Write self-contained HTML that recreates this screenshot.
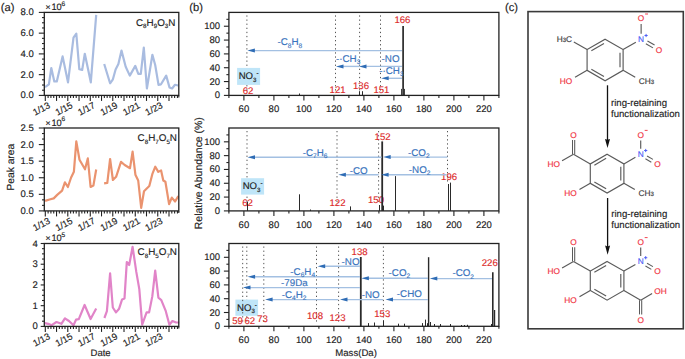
<!DOCTYPE html>
<html><head><meta charset="utf-8"><style>
html,body{margin:0;padding:0;background:#fff;}
svg{display:block;}
text{text-rendering:geometricPrecision;font-family:"Liberation Sans",sans-serif;}
</style></head><body>
<svg width="685" height="359" viewBox="0 0 685 359">
<defs><clipPath id="clipA"><rect x="0" y="0" width="180" height="359"/></clipPath></defs>
<rect width="685" height="359" fill="#fff"/>
<text x="0.7" y="11.3" font-size="11.2" font-family="Liberation Sans, sans-serif" fill="#222" stroke="#222" stroke-width="0.15">(a)</text>
<polyline points="45.0,87.2 48.9,84.4 51.3,68.0 54.3,81.4 56.8,81.4 62.6,56.4 68.0,82.3 73.5,37.6 76.3,33.7 79.3,69.2 82.2,69.9 84.8,53.8 90.8,82.3 96.2,14.9" fill="none" stroke="#a9bce0" stroke-width="2.2" stroke-linejoin="round" clip-path="url(#clipA)"/>
<polyline points="104.2,64.0 110.1,83.3 112.9,79.3 115.6,69.5 118.4,64.0 121.5,50.6 125.7,66.8 129.8,75.6 135.3,65.9 138.3,73.8 140.8,73.8 143.8,47.5 146.9,88.5 152.4,54.8 155.2,65.0 158.5,84.8 161.0,84.3 166.2,75.6 169.5,87.4 172.1,88.5 175.0,84.8 178.2,85.5" fill="none" stroke="#a9bce0" stroke-width="2.2" stroke-linejoin="round" clip-path="url(#clipA)"/>
<rect x="44.3" y="12.4" width="134.5" height="83.0" fill="none" stroke="#222" stroke-width="1.3"/>
<line x1="38.8" y1="95.40" x2="44.3" y2="95.40" stroke="#222" stroke-width="1.1"/>
<line x1="42.0" y1="90.21" x2="44.3" y2="90.21" stroke="#222" stroke-width="1.1"/>
<line x1="42.0" y1="85.03" x2="44.3" y2="85.03" stroke="#222" stroke-width="1.1"/>
<line x1="42.0" y1="79.84" x2="44.3" y2="79.84" stroke="#222" stroke-width="1.1"/>
<line x1="38.8" y1="74.65" x2="44.3" y2="74.65" stroke="#222" stroke-width="1.1"/>
<line x1="42.0" y1="69.46" x2="44.3" y2="69.46" stroke="#222" stroke-width="1.1"/>
<line x1="42.0" y1="64.28" x2="44.3" y2="64.28" stroke="#222" stroke-width="1.1"/>
<line x1="42.0" y1="59.09" x2="44.3" y2="59.09" stroke="#222" stroke-width="1.1"/>
<line x1="38.8" y1="53.90" x2="44.3" y2="53.90" stroke="#222" stroke-width="1.1"/>
<line x1="42.0" y1="48.71" x2="44.3" y2="48.71" stroke="#222" stroke-width="1.1"/>
<line x1="42.0" y1="43.53" x2="44.3" y2="43.53" stroke="#222" stroke-width="1.1"/>
<line x1="42.0" y1="38.34" x2="44.3" y2="38.34" stroke="#222" stroke-width="1.1"/>
<line x1="38.8" y1="33.15" x2="44.3" y2="33.15" stroke="#222" stroke-width="1.1"/>
<line x1="42.0" y1="27.96" x2="44.3" y2="27.96" stroke="#222" stroke-width="1.1"/>
<line x1="42.0" y1="22.78" x2="44.3" y2="22.78" stroke="#222" stroke-width="1.1"/>
<line x1="42.0" y1="17.59" x2="44.3" y2="17.59" stroke="#222" stroke-width="1.1"/>
<line x1="38.8" y1="12.40" x2="44.3" y2="12.40" stroke="#222" stroke-width="1.1"/>
<text x="33.8" y="98.4" font-size="9.5" text-anchor="end" font-family="Liberation Sans, sans-serif" fill="#222" stroke="#222" stroke-width="0.15">0.0</text>
<text x="33.8" y="77.7" font-size="9.5" text-anchor="end" font-family="Liberation Sans, sans-serif" fill="#222" stroke="#222" stroke-width="0.15">2.0</text>
<text x="33.8" y="56.9" font-size="9.5" text-anchor="end" font-family="Liberation Sans, sans-serif" fill="#222" stroke="#222" stroke-width="0.15">4.0</text>
<text x="33.8" y="36.2" font-size="9.5" text-anchor="end" font-family="Liberation Sans, sans-serif" fill="#222" stroke="#222" stroke-width="0.15">6.0</text>
<text x="33.8" y="15.4" font-size="9.5" text-anchor="end" font-family="Liberation Sans, sans-serif" fill="#222" stroke="#222" stroke-width="0.15">8.0</text>
<line x1="45.30" y1="95.4" x2="45.30" y2="100.9" stroke="#222" stroke-width="1.1"/>
<line x1="48.11" y1="95.4" x2="48.11" y2="97.9" stroke="#222" stroke-width="1.1"/>
<line x1="50.92" y1="95.4" x2="50.92" y2="97.9" stroke="#222" stroke-width="1.1"/>
<line x1="53.73" y1="95.4" x2="53.73" y2="97.9" stroke="#222" stroke-width="1.1"/>
<line x1="56.54" y1="95.4" x2="56.54" y2="100.9" stroke="#222" stroke-width="1.1"/>
<line x1="59.36" y1="95.4" x2="59.36" y2="97.9" stroke="#222" stroke-width="1.1"/>
<line x1="62.17" y1="95.4" x2="62.17" y2="97.9" stroke="#222" stroke-width="1.1"/>
<line x1="64.98" y1="95.4" x2="64.98" y2="97.9" stroke="#222" stroke-width="1.1"/>
<line x1="67.79" y1="95.4" x2="67.79" y2="100.9" stroke="#222" stroke-width="1.1"/>
<line x1="70.60" y1="95.4" x2="70.60" y2="97.9" stroke="#222" stroke-width="1.1"/>
<line x1="73.41" y1="95.4" x2="73.41" y2="97.9" stroke="#222" stroke-width="1.1"/>
<line x1="76.22" y1="95.4" x2="76.22" y2="97.9" stroke="#222" stroke-width="1.1"/>
<line x1="79.03" y1="95.4" x2="79.03" y2="100.9" stroke="#222" stroke-width="1.1"/>
<line x1="81.85" y1="95.4" x2="81.85" y2="97.9" stroke="#222" stroke-width="1.1"/>
<line x1="84.66" y1="95.4" x2="84.66" y2="97.9" stroke="#222" stroke-width="1.1"/>
<line x1="87.47" y1="95.4" x2="87.47" y2="97.9" stroke="#222" stroke-width="1.1"/>
<line x1="90.28" y1="95.4" x2="90.28" y2="100.9" stroke="#222" stroke-width="1.1"/>
<line x1="93.09" y1="95.4" x2="93.09" y2="97.9" stroke="#222" stroke-width="1.1"/>
<line x1="95.90" y1="95.4" x2="95.90" y2="97.9" stroke="#222" stroke-width="1.1"/>
<line x1="98.71" y1="95.4" x2="98.71" y2="97.9" stroke="#222" stroke-width="1.1"/>
<line x1="101.52" y1="95.4" x2="101.52" y2="100.9" stroke="#222" stroke-width="1.1"/>
<line x1="104.34" y1="95.4" x2="104.34" y2="97.9" stroke="#222" stroke-width="1.1"/>
<line x1="107.15" y1="95.4" x2="107.15" y2="97.9" stroke="#222" stroke-width="1.1"/>
<line x1="109.96" y1="95.4" x2="109.96" y2="97.9" stroke="#222" stroke-width="1.1"/>
<line x1="112.77" y1="95.4" x2="112.77" y2="100.9" stroke="#222" stroke-width="1.1"/>
<line x1="115.58" y1="95.4" x2="115.58" y2="97.9" stroke="#222" stroke-width="1.1"/>
<line x1="118.39" y1="95.4" x2="118.39" y2="97.9" stroke="#222" stroke-width="1.1"/>
<line x1="121.20" y1="95.4" x2="121.20" y2="97.9" stroke="#222" stroke-width="1.1"/>
<line x1="124.01" y1="95.4" x2="124.01" y2="100.9" stroke="#222" stroke-width="1.1"/>
<line x1="126.83" y1="95.4" x2="126.83" y2="97.9" stroke="#222" stroke-width="1.1"/>
<line x1="129.64" y1="95.4" x2="129.64" y2="97.9" stroke="#222" stroke-width="1.1"/>
<line x1="132.45" y1="95.4" x2="132.45" y2="97.9" stroke="#222" stroke-width="1.1"/>
<line x1="135.26" y1="95.4" x2="135.26" y2="100.9" stroke="#222" stroke-width="1.1"/>
<line x1="138.07" y1="95.4" x2="138.07" y2="97.9" stroke="#222" stroke-width="1.1"/>
<line x1="140.88" y1="95.4" x2="140.88" y2="97.9" stroke="#222" stroke-width="1.1"/>
<line x1="143.69" y1="95.4" x2="143.69" y2="97.9" stroke="#222" stroke-width="1.1"/>
<line x1="146.50" y1="95.4" x2="146.50" y2="100.9" stroke="#222" stroke-width="1.1"/>
<line x1="149.32" y1="95.4" x2="149.32" y2="97.9" stroke="#222" stroke-width="1.1"/>
<line x1="152.13" y1="95.4" x2="152.13" y2="97.9" stroke="#222" stroke-width="1.1"/>
<line x1="154.94" y1="95.4" x2="154.94" y2="97.9" stroke="#222" stroke-width="1.1"/>
<line x1="157.75" y1="95.4" x2="157.75" y2="100.9" stroke="#222" stroke-width="1.1"/>
<line x1="160.56" y1="95.4" x2="160.56" y2="97.9" stroke="#222" stroke-width="1.1"/>
<line x1="163.37" y1="95.4" x2="163.37" y2="97.9" stroke="#222" stroke-width="1.1"/>
<line x1="166.18" y1="95.4" x2="166.18" y2="97.9" stroke="#222" stroke-width="1.1"/>
<line x1="169.00" y1="95.4" x2="169.00" y2="100.9" stroke="#222" stroke-width="1.1"/>
<line x1="171.81" y1="95.4" x2="171.81" y2="97.9" stroke="#222" stroke-width="1.1"/>
<line x1="174.62" y1="95.4" x2="174.62" y2="97.9" stroke="#222" stroke-width="1.1"/>
<line x1="177.43" y1="95.4" x2="177.43" y2="97.9" stroke="#222" stroke-width="1.1"/>
<line x1="178.8" y1="95.4" x2="178.8" y2="97.4" stroke="#222" stroke-width="1.1"/>
<text transform="translate(50.9,107.3) rotate(-28)" font-size="9.3" text-anchor="end" font-family="Liberation Sans, sans-serif" fill="#222" stroke="#222" stroke-width="0.15">1/13</text>
<text transform="translate(73.4,107.3) rotate(-28)" font-size="9.3" text-anchor="end" font-family="Liberation Sans, sans-serif" fill="#222" stroke="#222" stroke-width="0.15">1/15</text>
<text transform="translate(95.9,107.3) rotate(-28)" font-size="9.3" text-anchor="end" font-family="Liberation Sans, sans-serif" fill="#222" stroke="#222" stroke-width="0.15">1/17</text>
<text transform="translate(118.4,107.3) rotate(-28)" font-size="9.3" text-anchor="end" font-family="Liberation Sans, sans-serif" fill="#222" stroke="#222" stroke-width="0.15">1/19</text>
<text transform="translate(140.9,107.3) rotate(-28)" font-size="9.3" text-anchor="end" font-family="Liberation Sans, sans-serif" fill="#222" stroke="#222" stroke-width="0.15">1/21</text>
<text transform="translate(163.3,107.3) rotate(-28)" font-size="9.3" text-anchor="end" font-family="Liberation Sans, sans-serif" fill="#222" stroke="#222" stroke-width="0.15">1/23</text>
<text x="45.6" y="9.9" font-size="8.6" font-family="Liberation Sans, sans-serif" fill="#222" stroke="#222" stroke-width="0.15">×</text>
<text x="51.4" y="10.0" font-size="9.3" font-family="Liberation Sans, sans-serif" fill="#222" stroke="#222" stroke-width="0.15">10</text>
<text x="61.6" y="5.6" font-size="6.6" font-family="Liberation Sans, sans-serif" fill="#222" stroke="#222" stroke-width="0.15">6</text>
<text x="136.0" y="25.9" font-size="9.85" font-family="Liberation Sans, sans-serif" fill="#222" stroke="#222" stroke-width="0.15">C<tspan font-size="6.2" dy="2.5">8</tspan><tspan dy="-2.5">H</tspan><tspan font-size="6.2" dy="2.5">9</tspan><tspan dy="-2.5">O</tspan><tspan font-size="6.2" dy="2.5">3</tspan><tspan dy="-2.5">N</tspan></text>
<polyline points="45.1,200.9 49.6,199.5 53.7,198.4 57.2,194.9 62.1,190.7 64.9,182.4 67.9,187.0 71.1,177.5 73.9,171.7 76.3,141.4 79.5,159.8 85.0,169.3 87.8,158.4 90.6,187.0 93.4,185.6 96.2,169.5" fill="none" stroke="#ea936f" stroke-width="2.2" stroke-linejoin="round" clip-path="url(#clipA)"/>
<polyline points="104.1,183.4 107.3,182.8 110.1,159.0 112.9,180.0 116.1,176.8 121.0,161.8 124.7,165.0 130.0,168.2 132.6,151.7 135.4,174.7 138.2,180.5 141.2,207.9 144.0,191.2 149.3,186.0 152.5,173.6 155.3,166.7 158.3,171.9 161.1,170.4 163.3,180.5 165.4,181.8 169.1,204.1 171.8,197.6 175.1,201.5 178.3,196.1" fill="none" stroke="#ea936f" stroke-width="2.2" stroke-linejoin="round" clip-path="url(#clipA)"/>
<rect x="44.3" y="128.0" width="134.5" height="82.9" fill="none" stroke="#222" stroke-width="1.3"/>
<line x1="38.8" y1="210.90" x2="44.3" y2="210.90" stroke="#222" stroke-width="1.1"/>
<line x1="42.0" y1="205.37" x2="44.3" y2="205.37" stroke="#222" stroke-width="1.1"/>
<line x1="42.0" y1="199.85" x2="44.3" y2="199.85" stroke="#222" stroke-width="1.1"/>
<line x1="38.8" y1="194.32" x2="44.3" y2="194.32" stroke="#222" stroke-width="1.1"/>
<line x1="42.0" y1="188.79" x2="44.3" y2="188.79" stroke="#222" stroke-width="1.1"/>
<line x1="42.0" y1="183.27" x2="44.3" y2="183.27" stroke="#222" stroke-width="1.1"/>
<line x1="38.8" y1="177.74" x2="44.3" y2="177.74" stroke="#222" stroke-width="1.1"/>
<line x1="42.0" y1="172.21" x2="44.3" y2="172.21" stroke="#222" stroke-width="1.1"/>
<line x1="42.0" y1="166.69" x2="44.3" y2="166.69" stroke="#222" stroke-width="1.1"/>
<line x1="38.8" y1="161.16" x2="44.3" y2="161.16" stroke="#222" stroke-width="1.1"/>
<line x1="42.0" y1="155.63" x2="44.3" y2="155.63" stroke="#222" stroke-width="1.1"/>
<line x1="42.0" y1="150.11" x2="44.3" y2="150.11" stroke="#222" stroke-width="1.1"/>
<line x1="38.8" y1="144.58" x2="44.3" y2="144.58" stroke="#222" stroke-width="1.1"/>
<line x1="42.0" y1="139.05" x2="44.3" y2="139.05" stroke="#222" stroke-width="1.1"/>
<line x1="42.0" y1="133.53" x2="44.3" y2="133.53" stroke="#222" stroke-width="1.1"/>
<line x1="38.8" y1="128.00" x2="44.3" y2="128.00" stroke="#222" stroke-width="1.1"/>
<text x="33.8" y="213.9" font-size="9.5" text-anchor="end" font-family="Liberation Sans, sans-serif" fill="#222" stroke="#222" stroke-width="0.15">0.0</text>
<text x="33.8" y="197.3" font-size="9.5" text-anchor="end" font-family="Liberation Sans, sans-serif" fill="#222" stroke="#222" stroke-width="0.15">0.5</text>
<text x="33.8" y="180.7" font-size="9.5" text-anchor="end" font-family="Liberation Sans, sans-serif" fill="#222" stroke="#222" stroke-width="0.15">1.0</text>
<text x="33.8" y="164.2" font-size="9.5" text-anchor="end" font-family="Liberation Sans, sans-serif" fill="#222" stroke="#222" stroke-width="0.15">1.5</text>
<text x="33.8" y="147.6" font-size="9.5" text-anchor="end" font-family="Liberation Sans, sans-serif" fill="#222" stroke="#222" stroke-width="0.15">2.0</text>
<text x="33.8" y="131.0" font-size="9.5" text-anchor="end" font-family="Liberation Sans, sans-serif" fill="#222" stroke="#222" stroke-width="0.15">2.5</text>
<line x1="45.30" y1="210.9" x2="45.30" y2="216.4" stroke="#222" stroke-width="1.1"/>
<line x1="48.11" y1="210.9" x2="48.11" y2="213.4" stroke="#222" stroke-width="1.1"/>
<line x1="50.92" y1="210.9" x2="50.92" y2="213.4" stroke="#222" stroke-width="1.1"/>
<line x1="53.73" y1="210.9" x2="53.73" y2="213.4" stroke="#222" stroke-width="1.1"/>
<line x1="56.54" y1="210.9" x2="56.54" y2="216.4" stroke="#222" stroke-width="1.1"/>
<line x1="59.36" y1="210.9" x2="59.36" y2="213.4" stroke="#222" stroke-width="1.1"/>
<line x1="62.17" y1="210.9" x2="62.17" y2="213.4" stroke="#222" stroke-width="1.1"/>
<line x1="64.98" y1="210.9" x2="64.98" y2="213.4" stroke="#222" stroke-width="1.1"/>
<line x1="67.79" y1="210.9" x2="67.79" y2="216.4" stroke="#222" stroke-width="1.1"/>
<line x1="70.60" y1="210.9" x2="70.60" y2="213.4" stroke="#222" stroke-width="1.1"/>
<line x1="73.41" y1="210.9" x2="73.41" y2="213.4" stroke="#222" stroke-width="1.1"/>
<line x1="76.22" y1="210.9" x2="76.22" y2="213.4" stroke="#222" stroke-width="1.1"/>
<line x1="79.03" y1="210.9" x2="79.03" y2="216.4" stroke="#222" stroke-width="1.1"/>
<line x1="81.85" y1="210.9" x2="81.85" y2="213.4" stroke="#222" stroke-width="1.1"/>
<line x1="84.66" y1="210.9" x2="84.66" y2="213.4" stroke="#222" stroke-width="1.1"/>
<line x1="87.47" y1="210.9" x2="87.47" y2="213.4" stroke="#222" stroke-width="1.1"/>
<line x1="90.28" y1="210.9" x2="90.28" y2="216.4" stroke="#222" stroke-width="1.1"/>
<line x1="93.09" y1="210.9" x2="93.09" y2="213.4" stroke="#222" stroke-width="1.1"/>
<line x1="95.90" y1="210.9" x2="95.90" y2="213.4" stroke="#222" stroke-width="1.1"/>
<line x1="98.71" y1="210.9" x2="98.71" y2="213.4" stroke="#222" stroke-width="1.1"/>
<line x1="101.52" y1="210.9" x2="101.52" y2="216.4" stroke="#222" stroke-width="1.1"/>
<line x1="104.34" y1="210.9" x2="104.34" y2="213.4" stroke="#222" stroke-width="1.1"/>
<line x1="107.15" y1="210.9" x2="107.15" y2="213.4" stroke="#222" stroke-width="1.1"/>
<line x1="109.96" y1="210.9" x2="109.96" y2="213.4" stroke="#222" stroke-width="1.1"/>
<line x1="112.77" y1="210.9" x2="112.77" y2="216.4" stroke="#222" stroke-width="1.1"/>
<line x1="115.58" y1="210.9" x2="115.58" y2="213.4" stroke="#222" stroke-width="1.1"/>
<line x1="118.39" y1="210.9" x2="118.39" y2="213.4" stroke="#222" stroke-width="1.1"/>
<line x1="121.20" y1="210.9" x2="121.20" y2="213.4" stroke="#222" stroke-width="1.1"/>
<line x1="124.01" y1="210.9" x2="124.01" y2="216.4" stroke="#222" stroke-width="1.1"/>
<line x1="126.83" y1="210.9" x2="126.83" y2="213.4" stroke="#222" stroke-width="1.1"/>
<line x1="129.64" y1="210.9" x2="129.64" y2="213.4" stroke="#222" stroke-width="1.1"/>
<line x1="132.45" y1="210.9" x2="132.45" y2="213.4" stroke="#222" stroke-width="1.1"/>
<line x1="135.26" y1="210.9" x2="135.26" y2="216.4" stroke="#222" stroke-width="1.1"/>
<line x1="138.07" y1="210.9" x2="138.07" y2="213.4" stroke="#222" stroke-width="1.1"/>
<line x1="140.88" y1="210.9" x2="140.88" y2="213.4" stroke="#222" stroke-width="1.1"/>
<line x1="143.69" y1="210.9" x2="143.69" y2="213.4" stroke="#222" stroke-width="1.1"/>
<line x1="146.50" y1="210.9" x2="146.50" y2="216.4" stroke="#222" stroke-width="1.1"/>
<line x1="149.32" y1="210.9" x2="149.32" y2="213.4" stroke="#222" stroke-width="1.1"/>
<line x1="152.13" y1="210.9" x2="152.13" y2="213.4" stroke="#222" stroke-width="1.1"/>
<line x1="154.94" y1="210.9" x2="154.94" y2="213.4" stroke="#222" stroke-width="1.1"/>
<line x1="157.75" y1="210.9" x2="157.75" y2="216.4" stroke="#222" stroke-width="1.1"/>
<line x1="160.56" y1="210.9" x2="160.56" y2="213.4" stroke="#222" stroke-width="1.1"/>
<line x1="163.37" y1="210.9" x2="163.37" y2="213.4" stroke="#222" stroke-width="1.1"/>
<line x1="166.18" y1="210.9" x2="166.18" y2="213.4" stroke="#222" stroke-width="1.1"/>
<line x1="169.00" y1="210.9" x2="169.00" y2="216.4" stroke="#222" stroke-width="1.1"/>
<line x1="171.81" y1="210.9" x2="171.81" y2="213.4" stroke="#222" stroke-width="1.1"/>
<line x1="174.62" y1="210.9" x2="174.62" y2="213.4" stroke="#222" stroke-width="1.1"/>
<line x1="177.43" y1="210.9" x2="177.43" y2="213.4" stroke="#222" stroke-width="1.1"/>
<line x1="178.8" y1="210.9" x2="178.8" y2="212.9" stroke="#222" stroke-width="1.1"/>
<text transform="translate(50.9,222.8) rotate(-28)" font-size="9.3" text-anchor="end" font-family="Liberation Sans, sans-serif" fill="#222" stroke="#222" stroke-width="0.15">1/13</text>
<text transform="translate(73.4,222.8) rotate(-28)" font-size="9.3" text-anchor="end" font-family="Liberation Sans, sans-serif" fill="#222" stroke="#222" stroke-width="0.15">1/15</text>
<text transform="translate(95.9,222.8) rotate(-28)" font-size="9.3" text-anchor="end" font-family="Liberation Sans, sans-serif" fill="#222" stroke="#222" stroke-width="0.15">1/17</text>
<text transform="translate(118.4,222.8) rotate(-28)" font-size="9.3" text-anchor="end" font-family="Liberation Sans, sans-serif" fill="#222" stroke="#222" stroke-width="0.15">1/19</text>
<text transform="translate(140.9,222.8) rotate(-28)" font-size="9.3" text-anchor="end" font-family="Liberation Sans, sans-serif" fill="#222" stroke="#222" stroke-width="0.15">1/21</text>
<text transform="translate(163.3,222.8) rotate(-28)" font-size="9.3" text-anchor="end" font-family="Liberation Sans, sans-serif" fill="#222" stroke="#222" stroke-width="0.15">1/23</text>
<text x="45.6" y="125.5" font-size="8.6" font-family="Liberation Sans, sans-serif" fill="#222" stroke="#222" stroke-width="0.15">×</text>
<text x="51.4" y="125.6" font-size="9.3" font-family="Liberation Sans, sans-serif" fill="#222" stroke="#222" stroke-width="0.15">10</text>
<text x="61.6" y="121.2" font-size="6.6" font-family="Liberation Sans, sans-serif" fill="#222" stroke="#222" stroke-width="0.15">6</text>
<text x="137.6" y="141.2" font-size="9.85" font-family="Liberation Sans, sans-serif" fill="#222" stroke="#222" stroke-width="0.15">C<tspan font-size="6.2" dy="2.5">8</tspan><tspan dy="-2.5">H</tspan><tspan font-size="6.2" dy="2.5">7</tspan><tspan dy="-2.5">O</tspan><tspan font-size="6.2" dy="2.5">5</tspan><tspan dy="-2.5">N</tspan></text>
<polyline points="44.9,323.1 48.2,323.8 51.7,325.2 56.5,322.0 61.4,323.8 64.9,318.3 69.0,321.0 73.5,325.2 76.0,319.7 78.8,319.2 84.6,305.0 90.6,319.0 96.2,308.5" fill="none" stroke="#e184c8" stroke-width="2.2" stroke-linejoin="round" clip-path="url(#clipA)"/>
<polyline points="104.4,318.0 106.9,311.2 110.1,273.3 112.8,307.5 116.0,312.4 119.1,308.7 122.1,299.4 124.5,298.4 126.8,262.0 129.2,265.0 132.6,246.8 136.3,271.9 139.3,289.1 142.2,324.7 146.6,312.4 149.1,312.4 152.3,296.4 155.2,270.7 158.4,297.7 161.3,300.1 165.8,311.2 169.4,324.7 172.4,321.0 176.1,322.5 179.2,322.5" fill="none" stroke="#e184c8" stroke-width="2.2" stroke-linejoin="round" clip-path="url(#clipA)"/>
<rect x="44.3" y="243.5" width="134.5" height="82.89999999999998" fill="none" stroke="#222" stroke-width="1.3"/>
<line x1="40.7" y1="326.40" x2="44.3" y2="326.40" stroke="#222" stroke-width="1.1"/>
<line x1="42.0" y1="321.22" x2="44.3" y2="321.22" stroke="#222" stroke-width="1.1"/>
<line x1="42.0" y1="316.04" x2="44.3" y2="316.04" stroke="#222" stroke-width="1.1"/>
<line x1="42.0" y1="310.86" x2="44.3" y2="310.86" stroke="#222" stroke-width="1.1"/>
<line x1="40.7" y1="305.67" x2="44.3" y2="305.67" stroke="#222" stroke-width="1.1"/>
<line x1="42.0" y1="300.49" x2="44.3" y2="300.49" stroke="#222" stroke-width="1.1"/>
<line x1="42.0" y1="295.31" x2="44.3" y2="295.31" stroke="#222" stroke-width="1.1"/>
<line x1="42.0" y1="290.13" x2="44.3" y2="290.13" stroke="#222" stroke-width="1.1"/>
<line x1="40.7" y1="284.95" x2="44.3" y2="284.95" stroke="#222" stroke-width="1.1"/>
<line x1="42.0" y1="279.77" x2="44.3" y2="279.77" stroke="#222" stroke-width="1.1"/>
<line x1="42.0" y1="274.59" x2="44.3" y2="274.59" stroke="#222" stroke-width="1.1"/>
<line x1="42.0" y1="269.41" x2="44.3" y2="269.41" stroke="#222" stroke-width="1.1"/>
<line x1="40.7" y1="264.23" x2="44.3" y2="264.23" stroke="#222" stroke-width="1.1"/>
<line x1="42.0" y1="259.04" x2="44.3" y2="259.04" stroke="#222" stroke-width="1.1"/>
<line x1="42.0" y1="253.86" x2="44.3" y2="253.86" stroke="#222" stroke-width="1.1"/>
<line x1="42.0" y1="248.68" x2="44.3" y2="248.68" stroke="#222" stroke-width="1.1"/>
<line x1="40.7" y1="243.50" x2="44.3" y2="243.50" stroke="#222" stroke-width="1.1"/>
<text x="37.9" y="329.4" font-size="9.5" text-anchor="end" font-family="Liberation Sans, sans-serif" fill="#222" stroke="#222" stroke-width="0.15">0</text>
<text x="37.9" y="308.7" font-size="9.5" text-anchor="end" font-family="Liberation Sans, sans-serif" fill="#222" stroke="#222" stroke-width="0.15">1</text>
<text x="37.9" y="287.9" font-size="9.5" text-anchor="end" font-family="Liberation Sans, sans-serif" fill="#222" stroke="#222" stroke-width="0.15">2</text>
<text x="37.9" y="267.2" font-size="9.5" text-anchor="end" font-family="Liberation Sans, sans-serif" fill="#222" stroke="#222" stroke-width="0.15">3</text>
<text x="37.9" y="246.5" font-size="9.5" text-anchor="end" font-family="Liberation Sans, sans-serif" fill="#222" stroke="#222" stroke-width="0.15">4</text>
<line x1="45.30" y1="326.4" x2="45.30" y2="331.9" stroke="#222" stroke-width="1.1"/>
<line x1="48.11" y1="326.4" x2="48.11" y2="328.9" stroke="#222" stroke-width="1.1"/>
<line x1="50.92" y1="326.4" x2="50.92" y2="328.9" stroke="#222" stroke-width="1.1"/>
<line x1="53.73" y1="326.4" x2="53.73" y2="328.9" stroke="#222" stroke-width="1.1"/>
<line x1="56.54" y1="326.4" x2="56.54" y2="331.9" stroke="#222" stroke-width="1.1"/>
<line x1="59.36" y1="326.4" x2="59.36" y2="328.9" stroke="#222" stroke-width="1.1"/>
<line x1="62.17" y1="326.4" x2="62.17" y2="328.9" stroke="#222" stroke-width="1.1"/>
<line x1="64.98" y1="326.4" x2="64.98" y2="328.9" stroke="#222" stroke-width="1.1"/>
<line x1="67.79" y1="326.4" x2="67.79" y2="331.9" stroke="#222" stroke-width="1.1"/>
<line x1="70.60" y1="326.4" x2="70.60" y2="328.9" stroke="#222" stroke-width="1.1"/>
<line x1="73.41" y1="326.4" x2="73.41" y2="328.9" stroke="#222" stroke-width="1.1"/>
<line x1="76.22" y1="326.4" x2="76.22" y2="328.9" stroke="#222" stroke-width="1.1"/>
<line x1="79.03" y1="326.4" x2="79.03" y2="331.9" stroke="#222" stroke-width="1.1"/>
<line x1="81.85" y1="326.4" x2="81.85" y2="328.9" stroke="#222" stroke-width="1.1"/>
<line x1="84.66" y1="326.4" x2="84.66" y2="328.9" stroke="#222" stroke-width="1.1"/>
<line x1="87.47" y1="326.4" x2="87.47" y2="328.9" stroke="#222" stroke-width="1.1"/>
<line x1="90.28" y1="326.4" x2="90.28" y2="331.9" stroke="#222" stroke-width="1.1"/>
<line x1="93.09" y1="326.4" x2="93.09" y2="328.9" stroke="#222" stroke-width="1.1"/>
<line x1="95.90" y1="326.4" x2="95.90" y2="328.9" stroke="#222" stroke-width="1.1"/>
<line x1="98.71" y1="326.4" x2="98.71" y2="328.9" stroke="#222" stroke-width="1.1"/>
<line x1="101.52" y1="326.4" x2="101.52" y2="331.9" stroke="#222" stroke-width="1.1"/>
<line x1="104.34" y1="326.4" x2="104.34" y2="328.9" stroke="#222" stroke-width="1.1"/>
<line x1="107.15" y1="326.4" x2="107.15" y2="328.9" stroke="#222" stroke-width="1.1"/>
<line x1="109.96" y1="326.4" x2="109.96" y2="328.9" stroke="#222" stroke-width="1.1"/>
<line x1="112.77" y1="326.4" x2="112.77" y2="331.9" stroke="#222" stroke-width="1.1"/>
<line x1="115.58" y1="326.4" x2="115.58" y2="328.9" stroke="#222" stroke-width="1.1"/>
<line x1="118.39" y1="326.4" x2="118.39" y2="328.9" stroke="#222" stroke-width="1.1"/>
<line x1="121.20" y1="326.4" x2="121.20" y2="328.9" stroke="#222" stroke-width="1.1"/>
<line x1="124.01" y1="326.4" x2="124.01" y2="331.9" stroke="#222" stroke-width="1.1"/>
<line x1="126.83" y1="326.4" x2="126.83" y2="328.9" stroke="#222" stroke-width="1.1"/>
<line x1="129.64" y1="326.4" x2="129.64" y2="328.9" stroke="#222" stroke-width="1.1"/>
<line x1="132.45" y1="326.4" x2="132.45" y2="328.9" stroke="#222" stroke-width="1.1"/>
<line x1="135.26" y1="326.4" x2="135.26" y2="331.9" stroke="#222" stroke-width="1.1"/>
<line x1="138.07" y1="326.4" x2="138.07" y2="328.9" stroke="#222" stroke-width="1.1"/>
<line x1="140.88" y1="326.4" x2="140.88" y2="328.9" stroke="#222" stroke-width="1.1"/>
<line x1="143.69" y1="326.4" x2="143.69" y2="328.9" stroke="#222" stroke-width="1.1"/>
<line x1="146.50" y1="326.4" x2="146.50" y2="331.9" stroke="#222" stroke-width="1.1"/>
<line x1="149.32" y1="326.4" x2="149.32" y2="328.9" stroke="#222" stroke-width="1.1"/>
<line x1="152.13" y1="326.4" x2="152.13" y2="328.9" stroke="#222" stroke-width="1.1"/>
<line x1="154.94" y1="326.4" x2="154.94" y2="328.9" stroke="#222" stroke-width="1.1"/>
<line x1="157.75" y1="326.4" x2="157.75" y2="331.9" stroke="#222" stroke-width="1.1"/>
<line x1="160.56" y1="326.4" x2="160.56" y2="328.9" stroke="#222" stroke-width="1.1"/>
<line x1="163.37" y1="326.4" x2="163.37" y2="328.9" stroke="#222" stroke-width="1.1"/>
<line x1="166.18" y1="326.4" x2="166.18" y2="328.9" stroke="#222" stroke-width="1.1"/>
<line x1="169.00" y1="326.4" x2="169.00" y2="331.9" stroke="#222" stroke-width="1.1"/>
<line x1="171.81" y1="326.4" x2="171.81" y2="328.9" stroke="#222" stroke-width="1.1"/>
<line x1="174.62" y1="326.4" x2="174.62" y2="328.9" stroke="#222" stroke-width="1.1"/>
<line x1="177.43" y1="326.4" x2="177.43" y2="328.9" stroke="#222" stroke-width="1.1"/>
<line x1="178.8" y1="326.4" x2="178.8" y2="328.4" stroke="#222" stroke-width="1.1"/>
<text transform="translate(50.9,338.3) rotate(-28)" font-size="9.3" text-anchor="end" font-family="Liberation Sans, sans-serif" fill="#222" stroke="#222" stroke-width="0.15">1/13</text>
<text transform="translate(73.4,338.3) rotate(-28)" font-size="9.3" text-anchor="end" font-family="Liberation Sans, sans-serif" fill="#222" stroke="#222" stroke-width="0.15">1/15</text>
<text transform="translate(95.9,338.3) rotate(-28)" font-size="9.3" text-anchor="end" font-family="Liberation Sans, sans-serif" fill="#222" stroke="#222" stroke-width="0.15">1/17</text>
<text transform="translate(118.4,338.3) rotate(-28)" font-size="9.3" text-anchor="end" font-family="Liberation Sans, sans-serif" fill="#222" stroke="#222" stroke-width="0.15">1/19</text>
<text transform="translate(140.9,338.3) rotate(-28)" font-size="9.3" text-anchor="end" font-family="Liberation Sans, sans-serif" fill="#222" stroke="#222" stroke-width="0.15">1/21</text>
<text transform="translate(163.3,338.3) rotate(-28)" font-size="9.3" text-anchor="end" font-family="Liberation Sans, sans-serif" fill="#222" stroke="#222" stroke-width="0.15">1/23</text>
<text x="45.6" y="241.0" font-size="8.6" font-family="Liberation Sans, sans-serif" fill="#222" stroke="#222" stroke-width="0.15">×</text>
<text x="51.4" y="241.1" font-size="9.3" font-family="Liberation Sans, sans-serif" fill="#222" stroke="#222" stroke-width="0.15">10</text>
<text x="61.6" y="236.7" font-size="6.6" font-family="Liberation Sans, sans-serif" fill="#222" stroke="#222" stroke-width="0.15">5</text>
<text x="137.6" y="255.1" font-size="9.85" font-family="Liberation Sans, sans-serif" fill="#222" stroke="#222" stroke-width="0.15">C<tspan font-size="6.2" dy="2.5">8</tspan><tspan dy="-2.5">H</tspan><tspan font-size="6.2" dy="2.5">5</tspan><tspan dy="-2.5">O</tspan><tspan font-size="6.2" dy="2.5">7</tspan><tspan dy="-2.5">N</tspan></text>
<text transform="translate(14.0,167.2) rotate(-90)" font-size="10.25" text-anchor="middle" font-family="Liberation Sans, sans-serif" fill="#222" stroke="#222" stroke-width="0.15">Peak area</text>
<text x="100.6" y="355.9" font-size="9.5" text-anchor="middle" font-family="Liberation Sans, sans-serif" fill="#222" stroke="#222" stroke-width="0.15">Date</text>
<text x="189.3" y="11.3" font-size="11.2" font-family="Liberation Sans, sans-serif" fill="#222" stroke="#222" stroke-width="0.15">(b)</text>
<line x1="246.9" y1="15.4" x2="246.9" y2="93.4" stroke="#555" stroke-width="1" stroke-dasharray="1.3 2.8"/>
<line x1="335.5" y1="15.4" x2="335.5" y2="93.4" stroke="#555" stroke-width="1" stroke-dasharray="1.3 2.8"/>
<line x1="359.6" y1="15.4" x2="359.6" y2="90.4" stroke="#555" stroke-width="1" stroke-dasharray="1.3 2.8"/>
<line x1="380.5" y1="15.4" x2="380.5" y2="93.4" stroke="#555" stroke-width="1" stroke-dasharray="1.3 2.8"/>
<rect x="237.1" y="67.9" width="23" height="17" fill="#bfe5f8"/>
<text x="238.7" y="78.8" font-size="9.6" font-family="Liberation Sans, sans-serif" fill="#222" stroke="#222" stroke-width="0.15">NO<tspan font-size="6.2" dy="2.8">3</tspan><tspan font-size="6.2" dy="-6.8">-</tspan></text>
<text x="248.0" y="93.6" font-size="9.6" text-anchor="middle" font-family="Liberation Sans, sans-serif" fill="#dc2a2a" stroke="#dc2a2a" stroke-width="0.15">62</text>
<text x="337.6" y="92.5" font-size="9.6" text-anchor="middle" font-family="Liberation Sans, sans-serif" fill="#dc2a2a" stroke="#dc2a2a" stroke-width="0.15">121</text>
<text x="361.0" y="89.3" font-size="9.6" text-anchor="middle" font-family="Liberation Sans, sans-serif" fill="#dc2a2a" stroke="#dc2a2a" stroke-width="0.15">136</text>
<text x="381.4" y="92.8" font-size="9.6" text-anchor="middle" font-family="Liberation Sans, sans-serif" fill="#dc2a2a" stroke="#dc2a2a" stroke-width="0.15">151</text>
<text x="402.4" y="23.3" font-size="9.6" text-anchor="middle" font-family="Liberation Sans, sans-serif" fill="#dc2a2a" stroke="#dc2a2a" stroke-width="0.15">166</text>
<line x1="403.10" y1="95.4" x2="403.10" y2="26.1" stroke="#2a2a2a" stroke-width="1.7"/>
<line x1="401.50" y1="95.4" x2="401.50" y2="88.9" stroke="#2a2a2a" stroke-width="0.9"/>
<line x1="404.50" y1="95.4" x2="404.50" y2="88.9" stroke="#2a2a2a" stroke-width="0.9"/>
<line x1="359.50" y1="95.4" x2="359.50" y2="91.2" stroke="#2a2a2a" stroke-width="1.0"/>
<line x1="362.50" y1="95.4" x2="362.50" y2="91.2" stroke="#2a2a2a" stroke-width="1.0"/>
<line x1="299.50" y1="95.4" x2="299.50" y2="93.5" stroke="#2a2a2a" stroke-width="1.0"/>
<line x1="402.0" y1="50.6" x2="253.4" y2="50.6" stroke="#a3c0e2" stroke-width="1.4"/>
<path d="M247.4,50.6 L254.9,48.6 L254.9,52.6 Z" fill="#2e6cb5"/>
<text x="277.4" y="45.3" font-size="9.8" text-anchor="start" font-family="Liberation Sans, sans-serif" fill="#3a74bd" stroke="#3a74bd" stroke-width="0.15">-C<tspan font-size="6.6" dy="2.4">8</tspan><tspan dy="-2.4">H</tspan><tspan font-size="6.6" dy="2.4">8</tspan></text>
<line x1="402.0" y1="66.4" x2="365.0" y2="66.4" stroke="#a3c0e2" stroke-width="1.4"/>
<path d="M359.0,66.4 L366.5,64.4 L366.5,68.4 Z" fill="#2e6cb5"/>
<line x1="359.6" y1="66.4" x2="342.0" y2="66.4" stroke="#a3c0e2" stroke-width="1.4"/>
<path d="M336.0,66.4 L343.5,64.4 L343.5,68.4 Z" fill="#2e6cb5"/>
<text x="336.0" y="61.8" font-size="9.8" text-anchor="start" font-family="Liberation Sans, sans-serif" fill="#3a74bd" stroke="#3a74bd" stroke-width="0.15">-·CH<tspan font-size="6.6" dy="2.4">3</tspan></text>
<text x="381.6" y="62.3" font-size="9.8" text-anchor="start" font-family="Liberation Sans, sans-serif" fill="#3a74bd" stroke="#3a74bd" stroke-width="0.15">-NO</text>
<line x1="402.0" y1="78.3" x2="387.2" y2="78.3" stroke="#a3c0e2" stroke-width="1.4"/>
<path d="M381.2,78.3 L388.7,76.3 L388.7,80.3 Z" fill="#2e6cb5"/>
<text x="379.2" y="74.0" font-size="9.8" text-anchor="start" font-family="Liberation Sans, sans-serif" fill="#3a74bd" stroke="#3a74bd" stroke-width="0.15">-·CH<tspan font-size="6.6" dy="2.4">3</tspan></text>
<rect x="228.9" y="12.4" width="270.0" height="83.0" fill="none" stroke="#222" stroke-width="1.3"/>
<line x1="223.9" y1="95.40" x2="228.9" y2="95.40" stroke="#222" stroke-width="1.1"/>
<line x1="226.4" y1="88.48" x2="228.9" y2="88.48" stroke="#222" stroke-width="1.1"/>
<line x1="223.9" y1="81.57" x2="228.9" y2="81.57" stroke="#222" stroke-width="1.1"/>
<line x1="226.4" y1="74.65" x2="228.9" y2="74.65" stroke="#222" stroke-width="1.1"/>
<line x1="223.9" y1="67.73" x2="228.9" y2="67.73" stroke="#222" stroke-width="1.1"/>
<line x1="226.4" y1="60.82" x2="228.9" y2="60.82" stroke="#222" stroke-width="1.1"/>
<line x1="223.9" y1="53.90" x2="228.9" y2="53.90" stroke="#222" stroke-width="1.1"/>
<line x1="226.4" y1="46.98" x2="228.9" y2="46.98" stroke="#222" stroke-width="1.1"/>
<line x1="223.9" y1="40.07" x2="228.9" y2="40.07" stroke="#222" stroke-width="1.1"/>
<line x1="226.4" y1="33.15" x2="228.9" y2="33.15" stroke="#222" stroke-width="1.1"/>
<line x1="223.9" y1="26.23" x2="228.9" y2="26.23" stroke="#222" stroke-width="1.1"/>
<line x1="226.4" y1="19.32" x2="228.9" y2="19.32" stroke="#222" stroke-width="1.1"/>
<text x="220" y="98.4" font-size="9.5" text-anchor="end" font-family="Liberation Sans, sans-serif" fill="#222" stroke="#222" stroke-width="0.15">0</text>
<text x="220" y="84.6" font-size="9.5" text-anchor="end" font-family="Liberation Sans, sans-serif" fill="#222" stroke="#222" stroke-width="0.15">20</text>
<text x="220" y="70.7" font-size="9.5" text-anchor="end" font-family="Liberation Sans, sans-serif" fill="#222" stroke="#222" stroke-width="0.15">40</text>
<text x="220" y="56.9" font-size="9.5" text-anchor="end" font-family="Liberation Sans, sans-serif" fill="#222" stroke="#222" stroke-width="0.15">60</text>
<text x="220" y="43.1" font-size="9.5" text-anchor="end" font-family="Liberation Sans, sans-serif" fill="#222" stroke="#222" stroke-width="0.15">80</text>
<text x="220" y="29.2" font-size="9.5" text-anchor="end" font-family="Liberation Sans, sans-serif" fill="#222" stroke="#222" stroke-width="0.15">100</text>
<line x1="228.9" y1="95.4" x2="228.9" y2="97.9" stroke="#222" stroke-width="1.1"/>
<line x1="243.9" y1="95.4" x2="243.9" y2="100.4" stroke="#222" stroke-width="1.1"/>
<line x1="258.9" y1="95.4" x2="258.9" y2="97.9" stroke="#222" stroke-width="1.1"/>
<line x1="273.9" y1="95.4" x2="273.9" y2="100.4" stroke="#222" stroke-width="1.1"/>
<line x1="288.9" y1="95.4" x2="288.9" y2="97.9" stroke="#222" stroke-width="1.1"/>
<line x1="303.9" y1="95.4" x2="303.9" y2="100.4" stroke="#222" stroke-width="1.1"/>
<line x1="318.9" y1="95.4" x2="318.9" y2="97.9" stroke="#222" stroke-width="1.1"/>
<line x1="333.9" y1="95.4" x2="333.9" y2="100.4" stroke="#222" stroke-width="1.1"/>
<line x1="348.9" y1="95.4" x2="348.9" y2="97.9" stroke="#222" stroke-width="1.1"/>
<line x1="363.9" y1="95.4" x2="363.9" y2="100.4" stroke="#222" stroke-width="1.1"/>
<line x1="378.9" y1="95.4" x2="378.9" y2="97.9" stroke="#222" stroke-width="1.1"/>
<line x1="393.9" y1="95.4" x2="393.9" y2="100.4" stroke="#222" stroke-width="1.1"/>
<line x1="408.9" y1="95.4" x2="408.9" y2="97.9" stroke="#222" stroke-width="1.1"/>
<line x1="423.9" y1="95.4" x2="423.9" y2="100.4" stroke="#222" stroke-width="1.1"/>
<line x1="438.9" y1="95.4" x2="438.9" y2="97.9" stroke="#222" stroke-width="1.1"/>
<line x1="453.9" y1="95.4" x2="453.9" y2="100.4" stroke="#222" stroke-width="1.1"/>
<line x1="468.9" y1="95.4" x2="468.9" y2="97.9" stroke="#222" stroke-width="1.1"/>
<line x1="483.9" y1="95.4" x2="483.9" y2="100.4" stroke="#222" stroke-width="1.1"/>
<line x1="498.9" y1="95.4" x2="498.9" y2="97.9" stroke="#222" stroke-width="1.1"/>
<text x="243.9" y="112.3" font-size="9.5" text-anchor="middle" font-family="Liberation Sans, sans-serif" fill="#222" stroke="#222" stroke-width="0.15">60</text>
<text x="273.9" y="112.3" font-size="9.5" text-anchor="middle" font-family="Liberation Sans, sans-serif" fill="#222" stroke="#222" stroke-width="0.15">80</text>
<text x="303.9" y="112.3" font-size="9.5" text-anchor="middle" font-family="Liberation Sans, sans-serif" fill="#222" stroke="#222" stroke-width="0.15">100</text>
<text x="333.9" y="112.3" font-size="9.5" text-anchor="middle" font-family="Liberation Sans, sans-serif" fill="#222" stroke="#222" stroke-width="0.15">120</text>
<text x="363.9" y="112.3" font-size="9.5" text-anchor="middle" font-family="Liberation Sans, sans-serif" fill="#222" stroke="#222" stroke-width="0.15">140</text>
<text x="393.9" y="112.3" font-size="9.5" text-anchor="middle" font-family="Liberation Sans, sans-serif" fill="#222" stroke="#222" stroke-width="0.15">160</text>
<text x="423.9" y="112.3" font-size="9.5" text-anchor="middle" font-family="Liberation Sans, sans-serif" fill="#222" stroke="#222" stroke-width="0.15">180</text>
<text x="453.9" y="112.3" font-size="9.5" text-anchor="middle" font-family="Liberation Sans, sans-serif" fill="#222" stroke="#222" stroke-width="0.15">200</text>
<text x="483.9" y="112.3" font-size="9.5" text-anchor="middle" font-family="Liberation Sans, sans-serif" fill="#222" stroke="#222" stroke-width="0.15">220</text>
<line x1="247.0" y1="131.0" x2="247.0" y2="208.9" stroke="#555" stroke-width="1" stroke-dasharray="1.3 2.8"/>
<line x1="337.0" y1="131.0" x2="337.0" y2="208.9" stroke="#555" stroke-width="1" stroke-dasharray="1.3 2.8"/>
<line x1="378.6" y1="131.0" x2="378.6" y2="202.9" stroke="#555" stroke-width="1" stroke-dasharray="1.3 2.8"/>
<line x1="447.5" y1="131.0" x2="447.5" y2="182.9" stroke="#555" stroke-width="1" stroke-dasharray="1.3 2.8"/>
<rect x="241.1" y="178.2" width="23" height="16.4" fill="#bfe5f8"/>
<text x="242.7" y="189.1" font-size="9.6" font-family="Liberation Sans, sans-serif" fill="#222" stroke="#222" stroke-width="0.15">NO<tspan font-size="6.2" dy="2.8">3</tspan><tspan font-size="6.2" dy="-6.8">-</tspan></text>
<text x="247.6" y="205.6" font-size="9.6" text-anchor="middle" font-family="Liberation Sans, sans-serif" fill="#dc2a2a" stroke="#dc2a2a" stroke-width="0.15">62</text>
<text x="337.5" y="205.6" font-size="9.6" text-anchor="middle" font-family="Liberation Sans, sans-serif" fill="#dc2a2a" stroke="#dc2a2a" stroke-width="0.15">122</text>
<text x="376.0" y="203.3" font-size="9.6" text-anchor="middle" font-family="Liberation Sans, sans-serif" fill="#dc2a2a" stroke="#dc2a2a" stroke-width="0.15">150</text>
<text x="382.6" y="140.0" font-size="9.6" text-anchor="middle" font-family="Liberation Sans, sans-serif" fill="#dc2a2a" stroke="#dc2a2a" stroke-width="0.15">152</text>
<text x="449.1" y="180.2" font-size="9.6" text-anchor="middle" font-family="Liberation Sans, sans-serif" fill="#dc2a2a" stroke="#dc2a2a" stroke-width="0.15">196</text>
<line x1="382.20" y1="210.9" x2="382.20" y2="141.4" stroke="#2a2a2a" stroke-width="1.8"/>
<line x1="379.50" y1="210.9" x2="379.50" y2="205.0" stroke="#2a2a2a" stroke-width="1.0"/>
<line x1="383.50" y1="210.9" x2="383.50" y2="205.6" stroke="#2a2a2a" stroke-width="1.0"/>
<line x1="395.50" y1="210.9" x2="395.50" y2="176.1" stroke="#2a2a2a" stroke-width="1.0"/>
<line x1="448.50" y1="210.9" x2="448.50" y2="184.0" stroke="#2a2a2a" stroke-width="1.0"/>
<line x1="450.50" y1="210.9" x2="450.50" y2="182.6" stroke="#2a2a2a" stroke-width="1.0"/>
<line x1="299.50" y1="210.9" x2="299.50" y2="194.3" stroke="#2a2a2a" stroke-width="1.0"/>
<line x1="350.50" y1="210.9" x2="350.50" y2="206.4" stroke="#2a2a2a" stroke-width="1.0"/>
<line x1="247.50" y1="210.9" x2="247.50" y2="201.8" stroke="#2a2a2a" stroke-width="1.0"/>
<line x1="310.50" y1="210.9" x2="310.50" y2="209.5" stroke="#2a2a2a" stroke-width="1.0"/>
<line x1="381.5" y1="157.2" x2="253.5" y2="157.2" stroke="#a3c0e2" stroke-width="1.4"/>
<path d="M247.5,157.2 L255.0,155.2 L255.0,159.2 Z" fill="#2e6cb5"/>
<text x="302.7" y="155.8" font-size="9.8" text-anchor="start" font-family="Liberation Sans, sans-serif" fill="#3a74bd" stroke="#3a74bd" stroke-width="0.15">-C<tspan font-size="6.6" dy="2.4">7</tspan><tspan dy="-2.4">H</tspan><tspan font-size="6.6" dy="2.4">6</tspan></text>
<line x1="447.5" y1="157.1" x2="389.2" y2="157.1" stroke="#a3c0e2" stroke-width="1.4"/>
<path d="M383.2,157.1 L390.7,155.1 L390.7,159.1 Z" fill="#2e6cb5"/>
<text x="408.0" y="155.6" font-size="9.8" text-anchor="start" font-family="Liberation Sans, sans-serif" fill="#3a74bd" stroke="#3a74bd" stroke-width="0.15">-CO<tspan font-size="6.6" dy="2.4">2</tspan></text>
<line x1="446.7" y1="174.8" x2="387.1" y2="174.8" stroke="#a3c0e2" stroke-width="1.4"/>
<path d="M381.1,174.8 L388.6,172.8 L388.6,176.8 Z" fill="#2e6cb5"/>
<text x="408.8" y="173.0" font-size="9.8" text-anchor="start" font-family="Liberation Sans, sans-serif" fill="#3a74bd" stroke="#3a74bd" stroke-width="0.15">-NO<tspan font-size="6.6" dy="2.4">2</tspan></text>
<line x1="378.6" y1="174.8" x2="344.4" y2="174.8" stroke="#a3c0e2" stroke-width="1.4"/>
<path d="M338.4,174.8 L345.9,172.8 L345.9,176.8 Z" fill="#2e6cb5"/>
<text x="349.7" y="174.3" font-size="9.8" text-anchor="start" font-family="Liberation Sans, sans-serif" fill="#3a74bd" stroke="#3a74bd" stroke-width="0.15">-CO</text>
<rect x="228.9" y="128.0" width="270.0" height="82.9" fill="none" stroke="#222" stroke-width="1.3"/>
<line x1="223.9" y1="210.90" x2="228.9" y2="210.90" stroke="#222" stroke-width="1.1"/>
<line x1="226.4" y1="203.99" x2="228.9" y2="203.99" stroke="#222" stroke-width="1.1"/>
<line x1="223.9" y1="197.08" x2="228.9" y2="197.08" stroke="#222" stroke-width="1.1"/>
<line x1="226.4" y1="190.18" x2="228.9" y2="190.18" stroke="#222" stroke-width="1.1"/>
<line x1="223.9" y1="183.27" x2="228.9" y2="183.27" stroke="#222" stroke-width="1.1"/>
<line x1="226.4" y1="176.36" x2="228.9" y2="176.36" stroke="#222" stroke-width="1.1"/>
<line x1="223.9" y1="169.45" x2="228.9" y2="169.45" stroke="#222" stroke-width="1.1"/>
<line x1="226.4" y1="162.54" x2="228.9" y2="162.54" stroke="#222" stroke-width="1.1"/>
<line x1="223.9" y1="155.63" x2="228.9" y2="155.63" stroke="#222" stroke-width="1.1"/>
<line x1="226.4" y1="148.72" x2="228.9" y2="148.72" stroke="#222" stroke-width="1.1"/>
<line x1="223.9" y1="141.82" x2="228.9" y2="141.82" stroke="#222" stroke-width="1.1"/>
<line x1="226.4" y1="134.91" x2="228.9" y2="134.91" stroke="#222" stroke-width="1.1"/>
<text x="220" y="213.9" font-size="9.5" text-anchor="end" font-family="Liberation Sans, sans-serif" fill="#222" stroke="#222" stroke-width="0.15">0</text>
<text x="220" y="200.1" font-size="9.5" text-anchor="end" font-family="Liberation Sans, sans-serif" fill="#222" stroke="#222" stroke-width="0.15">20</text>
<text x="220" y="186.3" font-size="9.5" text-anchor="end" font-family="Liberation Sans, sans-serif" fill="#222" stroke="#222" stroke-width="0.15">40</text>
<text x="220" y="172.4" font-size="9.5" text-anchor="end" font-family="Liberation Sans, sans-serif" fill="#222" stroke="#222" stroke-width="0.15">60</text>
<text x="220" y="158.6" font-size="9.5" text-anchor="end" font-family="Liberation Sans, sans-serif" fill="#222" stroke="#222" stroke-width="0.15">80</text>
<text x="220" y="144.8" font-size="9.5" text-anchor="end" font-family="Liberation Sans, sans-serif" fill="#222" stroke="#222" stroke-width="0.15">100</text>
<line x1="228.9" y1="210.9" x2="228.9" y2="213.4" stroke="#222" stroke-width="1.1"/>
<line x1="243.9" y1="210.9" x2="243.9" y2="215.9" stroke="#222" stroke-width="1.1"/>
<line x1="258.9" y1="210.9" x2="258.9" y2="213.4" stroke="#222" stroke-width="1.1"/>
<line x1="273.9" y1="210.9" x2="273.9" y2="215.9" stroke="#222" stroke-width="1.1"/>
<line x1="288.9" y1="210.9" x2="288.9" y2="213.4" stroke="#222" stroke-width="1.1"/>
<line x1="303.9" y1="210.9" x2="303.9" y2="215.9" stroke="#222" stroke-width="1.1"/>
<line x1="318.9" y1="210.9" x2="318.9" y2="213.4" stroke="#222" stroke-width="1.1"/>
<line x1="333.9" y1="210.9" x2="333.9" y2="215.9" stroke="#222" stroke-width="1.1"/>
<line x1="348.9" y1="210.9" x2="348.9" y2="213.4" stroke="#222" stroke-width="1.1"/>
<line x1="363.9" y1="210.9" x2="363.9" y2="215.9" stroke="#222" stroke-width="1.1"/>
<line x1="378.9" y1="210.9" x2="378.9" y2="213.4" stroke="#222" stroke-width="1.1"/>
<line x1="393.9" y1="210.9" x2="393.9" y2="215.9" stroke="#222" stroke-width="1.1"/>
<line x1="408.9" y1="210.9" x2="408.9" y2="213.4" stroke="#222" stroke-width="1.1"/>
<line x1="423.9" y1="210.9" x2="423.9" y2="215.9" stroke="#222" stroke-width="1.1"/>
<line x1="438.9" y1="210.9" x2="438.9" y2="213.4" stroke="#222" stroke-width="1.1"/>
<line x1="453.9" y1="210.9" x2="453.9" y2="215.9" stroke="#222" stroke-width="1.1"/>
<line x1="468.9" y1="210.9" x2="468.9" y2="213.4" stroke="#222" stroke-width="1.1"/>
<line x1="483.9" y1="210.9" x2="483.9" y2="215.9" stroke="#222" stroke-width="1.1"/>
<line x1="498.9" y1="210.9" x2="498.9" y2="213.4" stroke="#222" stroke-width="1.1"/>
<text x="243.9" y="227.8" font-size="9.5" text-anchor="middle" font-family="Liberation Sans, sans-serif" fill="#222" stroke="#222" stroke-width="0.15">60</text>
<text x="273.9" y="227.8" font-size="9.5" text-anchor="middle" font-family="Liberation Sans, sans-serif" fill="#222" stroke="#222" stroke-width="0.15">80</text>
<text x="303.9" y="227.8" font-size="9.5" text-anchor="middle" font-family="Liberation Sans, sans-serif" fill="#222" stroke="#222" stroke-width="0.15">100</text>
<text x="333.9" y="227.8" font-size="9.5" text-anchor="middle" font-family="Liberation Sans, sans-serif" fill="#222" stroke="#222" stroke-width="0.15">120</text>
<text x="363.9" y="227.8" font-size="9.5" text-anchor="middle" font-family="Liberation Sans, sans-serif" fill="#222" stroke="#222" stroke-width="0.15">140</text>
<text x="393.9" y="227.8" font-size="9.5" text-anchor="middle" font-family="Liberation Sans, sans-serif" fill="#222" stroke="#222" stroke-width="0.15">160</text>
<text x="423.9" y="227.8" font-size="9.5" text-anchor="middle" font-family="Liberation Sans, sans-serif" fill="#222" stroke="#222" stroke-width="0.15">180</text>
<text x="453.9" y="227.8" font-size="9.5" text-anchor="middle" font-family="Liberation Sans, sans-serif" fill="#222" stroke="#222" stroke-width="0.15">200</text>
<text x="483.9" y="227.8" font-size="9.5" text-anchor="middle" font-family="Liberation Sans, sans-serif" fill="#222" stroke="#222" stroke-width="0.15">220</text>
<line x1="246.8" y1="246.5" x2="246.8" y2="324.3" stroke="#555" stroke-width="1" stroke-dasharray="1.3 2.8"/>
<line x1="263.8" y1="246.5" x2="263.8" y2="324.3" stroke="#555" stroke-width="1" stroke-dasharray="1.3 2.8"/>
<line x1="316.5" y1="246.5" x2="316.5" y2="324.3" stroke="#555" stroke-width="1" stroke-dasharray="1.3 2.8"/>
<line x1="338.6" y1="246.5" x2="338.6" y2="324.3" stroke="#555" stroke-width="1" stroke-dasharray="1.3 2.8"/>
<line x1="383.4" y1="246.5" x2="383.4" y2="318.3" stroke="#555" stroke-width="1" stroke-dasharray="1.3 2.8"/>
<rect x="235.4" y="299.6" width="22.7" height="16.2" fill="#bfe5f8"/>
<text x="237.0" y="310.5" font-size="9.6" font-family="Liberation Sans, sans-serif" fill="#222" stroke="#222" stroke-width="0.15">NO<tspan font-size="6.2" dy="2.8">3</tspan><tspan font-size="6.2" dy="-6.8">-</tspan></text>
<line x1="242.7" y1="246.5" x2="242.7" y2="324.3" stroke="#555" stroke-width="1" stroke-dasharray="1.3 2.8"/>
<text x="237.5" y="324.0" font-size="9.6" text-anchor="middle" font-family="Liberation Sans, sans-serif" fill="#dc2a2a" stroke="#dc2a2a" stroke-width="0.15">59</text>
<text x="249.8" y="324.0" font-size="9.6" text-anchor="middle" font-family="Liberation Sans, sans-serif" fill="#dc2a2a" stroke="#dc2a2a" stroke-width="0.15">62</text>
<text x="262.6" y="322.3" font-size="9.6" text-anchor="middle" font-family="Liberation Sans, sans-serif" fill="#dc2a2a" stroke="#dc2a2a" stroke-width="0.15">73</text>
<text x="315.0" y="319.0" font-size="9.6" text-anchor="middle" font-family="Liberation Sans, sans-serif" fill="#dc2a2a" stroke="#dc2a2a" stroke-width="0.15">108</text>
<text x="337.5" y="321.3" font-size="9.6" text-anchor="middle" font-family="Liberation Sans, sans-serif" fill="#dc2a2a" stroke="#dc2a2a" stroke-width="0.15">123</text>
<text x="382.3" y="317.2" font-size="9.6" text-anchor="middle" font-family="Liberation Sans, sans-serif" fill="#dc2a2a" stroke="#dc2a2a" stroke-width="0.15">153</text>
<text x="359.6" y="254.6" font-size="9.6" text-anchor="middle" font-family="Liberation Sans, sans-serif" fill="#dc2a2a" stroke="#dc2a2a" stroke-width="0.15">138</text>
<text x="489.8" y="265.8" font-size="9.6" text-anchor="middle" font-family="Liberation Sans, sans-serif" fill="#dc2a2a" stroke="#dc2a2a" stroke-width="0.15">226</text>
<line x1="360.80" y1="326.3" x2="360.80" y2="257.0" stroke="#2a2a2a" stroke-width="1.8"/>
<line x1="428.60" y1="326.3" x2="428.60" y2="257.2" stroke="#2a2a2a" stroke-width="1.4"/>
<line x1="492.80" y1="326.3" x2="492.80" y2="272.3" stroke="#2a2a2a" stroke-width="1.6"/>
<line x1="494.60" y1="326.3" x2="494.60" y2="310.0" stroke="#2a2a2a" stroke-width="1.2"/>
<line x1="368.50" y1="326.3" x2="368.50" y2="323.1" stroke="#2a2a2a" stroke-width="1.0"/>
<line x1="374.50" y1="326.3" x2="374.50" y2="322.5" stroke="#2a2a2a" stroke-width="1.0"/>
<line x1="383.50" y1="326.3" x2="383.50" y2="320.2" stroke="#2a2a2a" stroke-width="1.0"/>
<line x1="398.50" y1="326.3" x2="398.50" y2="323.7" stroke="#2a2a2a" stroke-width="1.0"/>
<line x1="404.50" y1="326.3" x2="404.50" y2="323.7" stroke="#2a2a2a" stroke-width="1.0"/>
<line x1="422.50" y1="326.3" x2="422.50" y2="323.1" stroke="#2a2a2a" stroke-width="1.0"/>
<line x1="425.50" y1="326.3" x2="425.50" y2="319.6" stroke="#2a2a2a" stroke-width="1.0"/>
<line x1="427.50" y1="326.3" x2="427.50" y2="323.2" stroke="#2a2a2a" stroke-width="1.0"/>
<line x1="430.50" y1="326.3" x2="430.50" y2="322.0" stroke="#2a2a2a" stroke-width="1.0"/>
<line x1="434.50" y1="326.3" x2="434.50" y2="324.0" stroke="#2a2a2a" stroke-width="1.0"/>
<line x1="440.50" y1="326.3" x2="440.50" y2="324.0" stroke="#2a2a2a" stroke-width="1.0"/>
<line x1="450.50" y1="326.3" x2="450.50" y2="324.0" stroke="#2a2a2a" stroke-width="1.0"/>
<line x1="461.50" y1="326.3" x2="461.50" y2="325.0" stroke="#2a2a2a" stroke-width="1.0"/>
<line x1="464.50" y1="326.3" x2="464.50" y2="325.0" stroke="#2a2a2a" stroke-width="1.0"/>
<line x1="467.50" y1="326.3" x2="467.50" y2="324.8" stroke="#2a2a2a" stroke-width="1.0"/>
<line x1="491.50" y1="326.3" x2="491.50" y2="324.0" stroke="#2a2a2a" stroke-width="1.0"/>
<line x1="360.0" y1="266.3" x2="323.7" y2="266.3" stroke="#a3c0e2" stroke-width="1.4"/>
<path d="M317.7,266.3 L325.2,264.3 L325.2,268.3 Z" fill="#2e6cb5"/>
<text x="341.6" y="265.3" font-size="9.8" text-anchor="start" font-family="Liberation Sans, sans-serif" fill="#3a74bd" stroke="#3a74bd" stroke-width="0.15">-NO</text>
<line x1="360.0" y1="276.8" x2="253.6" y2="276.8" stroke="#a3c0e2" stroke-width="1.4"/>
<path d="M247.6,276.8 L255.1,274.8 L255.1,278.8 Z" fill="#2e6cb5"/>
<text x="290.3" y="274.6" font-size="9.8" text-anchor="start" font-family="Liberation Sans, sans-serif" fill="#3a74bd" stroke="#3a74bd" stroke-width="0.15">-C<tspan font-size="6.6" dy="2.4">6</tspan><tspan dy="-2.4">H</tspan><tspan font-size="6.6" dy="2.4">4</tspan></text>
<line x1="360.0" y1="287.6" x2="249.0" y2="287.6" stroke="#a3c0e2" stroke-width="1.4"/>
<path d="M243.0,287.6 L250.5,285.6 L250.5,289.6 Z" fill="#2e6cb5"/>
<text x="281.0" y="285.9" font-size="9.8" text-anchor="start" font-family="Liberation Sans, sans-serif" fill="#3a74bd" stroke="#3a74bd" stroke-width="0.15">-79Da</text>
<line x1="492.0" y1="278.6" x2="435.8" y2="278.6" stroke="#a3c0e2" stroke-width="1.4"/>
<path d="M429.8,278.6 L437.3,276.6 L437.3,280.6 Z" fill="#2e6cb5"/>
<text x="452.4" y="276.4" font-size="9.8" text-anchor="start" font-family="Liberation Sans, sans-serif" fill="#3a74bd" stroke="#3a74bd" stroke-width="0.15">-CO<tspan font-size="6.6" dy="2.4">2</tspan></text>
<line x1="428.0" y1="278.3" x2="367.4" y2="278.3" stroke="#a3c0e2" stroke-width="1.4"/>
<path d="M361.4,278.3 L368.9,276.3 L368.9,280.3 Z" fill="#2e6cb5"/>
<text x="388.6" y="275.9" font-size="9.8" text-anchor="start" font-family="Liberation Sans, sans-serif" fill="#3a74bd" stroke="#3a74bd" stroke-width="0.15">-CO<tspan font-size="6.6" dy="2.4">2</tspan></text>
<line x1="428.0" y1="299.6" x2="391.5" y2="299.6" stroke="#a3c0e2" stroke-width="1.4"/>
<path d="M385.5,299.6 L393.0,297.6 L393.0,301.6 Z" fill="#2e6cb5"/>
<text x="396.8" y="297.0" font-size="9.8" text-anchor="start" font-family="Liberation Sans, sans-serif" fill="#3a74bd" stroke="#3a74bd" stroke-width="0.15">-CHO</text>
<line x1="383.0" y1="299.6" x2="346.0" y2="299.6" stroke="#a3c0e2" stroke-width="1.4"/>
<path d="M340.0,299.6 L347.5,297.6 L347.5,301.6 Z" fill="#2e6cb5"/>
<text x="361.7" y="297.9" font-size="9.8" text-anchor="start" font-family="Liberation Sans, sans-serif" fill="#3a74bd" stroke="#3a74bd" stroke-width="0.15">-NO</text>
<line x1="338.0" y1="299.6" x2="271.1" y2="299.6" stroke="#a3c0e2" stroke-width="1.4"/>
<path d="M265.1,299.6 L272.6,297.6 L272.6,301.6 Z" fill="#2e6cb5"/>
<text x="281.7" y="297.9" font-size="9.8" text-anchor="start" font-family="Liberation Sans, sans-serif" fill="#3a74bd" stroke="#3a74bd" stroke-width="0.15">-C<tspan font-size="6.6" dy="2.4">4</tspan><tspan dy="-2.4">H</tspan><tspan font-size="6.6" dy="2.4">2</tspan></text>
<rect x="228.9" y="243.5" width="270.0" height="82.80000000000001" fill="none" stroke="#222" stroke-width="1.3"/>
<line x1="223.9" y1="326.30" x2="228.9" y2="326.30" stroke="#222" stroke-width="1.1"/>
<line x1="226.4" y1="319.40" x2="228.9" y2="319.40" stroke="#222" stroke-width="1.1"/>
<line x1="223.9" y1="312.50" x2="228.9" y2="312.50" stroke="#222" stroke-width="1.1"/>
<line x1="226.4" y1="305.60" x2="228.9" y2="305.60" stroke="#222" stroke-width="1.1"/>
<line x1="223.9" y1="298.70" x2="228.9" y2="298.70" stroke="#222" stroke-width="1.1"/>
<line x1="226.4" y1="291.80" x2="228.9" y2="291.80" stroke="#222" stroke-width="1.1"/>
<line x1="223.9" y1="284.90" x2="228.9" y2="284.90" stroke="#222" stroke-width="1.1"/>
<line x1="226.4" y1="278.00" x2="228.9" y2="278.00" stroke="#222" stroke-width="1.1"/>
<line x1="223.9" y1="271.10" x2="228.9" y2="271.10" stroke="#222" stroke-width="1.1"/>
<line x1="226.4" y1="264.20" x2="228.9" y2="264.20" stroke="#222" stroke-width="1.1"/>
<line x1="223.9" y1="257.30" x2="228.9" y2="257.30" stroke="#222" stroke-width="1.1"/>
<line x1="226.4" y1="250.40" x2="228.9" y2="250.40" stroke="#222" stroke-width="1.1"/>
<text x="220" y="329.3" font-size="9.5" text-anchor="end" font-family="Liberation Sans, sans-serif" fill="#222" stroke="#222" stroke-width="0.15">0</text>
<text x="220" y="315.5" font-size="9.5" text-anchor="end" font-family="Liberation Sans, sans-serif" fill="#222" stroke="#222" stroke-width="0.15">20</text>
<text x="220" y="301.7" font-size="9.5" text-anchor="end" font-family="Liberation Sans, sans-serif" fill="#222" stroke="#222" stroke-width="0.15">40</text>
<text x="220" y="287.9" font-size="9.5" text-anchor="end" font-family="Liberation Sans, sans-serif" fill="#222" stroke="#222" stroke-width="0.15">60</text>
<text x="220" y="274.1" font-size="9.5" text-anchor="end" font-family="Liberation Sans, sans-serif" fill="#222" stroke="#222" stroke-width="0.15">80</text>
<text x="220" y="260.3" font-size="9.5" text-anchor="end" font-family="Liberation Sans, sans-serif" fill="#222" stroke="#222" stroke-width="0.15">100</text>
<line x1="228.9" y1="326.3" x2="228.9" y2="328.8" stroke="#222" stroke-width="1.1"/>
<line x1="243.9" y1="326.3" x2="243.9" y2="331.3" stroke="#222" stroke-width="1.1"/>
<line x1="258.9" y1="326.3" x2="258.9" y2="328.8" stroke="#222" stroke-width="1.1"/>
<line x1="273.9" y1="326.3" x2="273.9" y2="331.3" stroke="#222" stroke-width="1.1"/>
<line x1="288.9" y1="326.3" x2="288.9" y2="328.8" stroke="#222" stroke-width="1.1"/>
<line x1="303.9" y1="326.3" x2="303.9" y2="331.3" stroke="#222" stroke-width="1.1"/>
<line x1="318.9" y1="326.3" x2="318.9" y2="328.8" stroke="#222" stroke-width="1.1"/>
<line x1="333.9" y1="326.3" x2="333.9" y2="331.3" stroke="#222" stroke-width="1.1"/>
<line x1="348.9" y1="326.3" x2="348.9" y2="328.8" stroke="#222" stroke-width="1.1"/>
<line x1="363.9" y1="326.3" x2="363.9" y2="331.3" stroke="#222" stroke-width="1.1"/>
<line x1="378.9" y1="326.3" x2="378.9" y2="328.8" stroke="#222" stroke-width="1.1"/>
<line x1="393.9" y1="326.3" x2="393.9" y2="331.3" stroke="#222" stroke-width="1.1"/>
<line x1="408.9" y1="326.3" x2="408.9" y2="328.8" stroke="#222" stroke-width="1.1"/>
<line x1="423.9" y1="326.3" x2="423.9" y2="331.3" stroke="#222" stroke-width="1.1"/>
<line x1="438.9" y1="326.3" x2="438.9" y2="328.8" stroke="#222" stroke-width="1.1"/>
<line x1="453.9" y1="326.3" x2="453.9" y2="331.3" stroke="#222" stroke-width="1.1"/>
<line x1="468.9" y1="326.3" x2="468.9" y2="328.8" stroke="#222" stroke-width="1.1"/>
<line x1="483.9" y1="326.3" x2="483.9" y2="331.3" stroke="#222" stroke-width="1.1"/>
<line x1="498.9" y1="326.3" x2="498.9" y2="328.8" stroke="#222" stroke-width="1.1"/>
<text x="243.9" y="343.2" font-size="9.5" text-anchor="middle" font-family="Liberation Sans, sans-serif" fill="#222" stroke="#222" stroke-width="0.15">60</text>
<text x="273.9" y="343.2" font-size="9.5" text-anchor="middle" font-family="Liberation Sans, sans-serif" fill="#222" stroke="#222" stroke-width="0.15">80</text>
<text x="303.9" y="343.2" font-size="9.5" text-anchor="middle" font-family="Liberation Sans, sans-serif" fill="#222" stroke="#222" stroke-width="0.15">100</text>
<text x="333.9" y="343.2" font-size="9.5" text-anchor="middle" font-family="Liberation Sans, sans-serif" fill="#222" stroke="#222" stroke-width="0.15">120</text>
<text x="363.9" y="343.2" font-size="9.5" text-anchor="middle" font-family="Liberation Sans, sans-serif" fill="#222" stroke="#222" stroke-width="0.15">140</text>
<text x="393.9" y="343.2" font-size="9.5" text-anchor="middle" font-family="Liberation Sans, sans-serif" fill="#222" stroke="#222" stroke-width="0.15">160</text>
<text x="423.9" y="343.2" font-size="9.5" text-anchor="middle" font-family="Liberation Sans, sans-serif" fill="#222" stroke="#222" stroke-width="0.15">180</text>
<text x="453.9" y="343.2" font-size="9.5" text-anchor="middle" font-family="Liberation Sans, sans-serif" fill="#222" stroke="#222" stroke-width="0.15">200</text>
<text x="483.9" y="343.2" font-size="9.5" text-anchor="middle" font-family="Liberation Sans, sans-serif" fill="#222" stroke="#222" stroke-width="0.15">220</text>
<text transform="translate(201.5,173.2) rotate(-90)" font-size="10.45" text-anchor="middle" font-family="Liberation Sans, sans-serif" fill="#222" stroke="#222" stroke-width="0.15">Relative Abundance (%)</text>
<text x="356.1" y="355.7" font-size="9.6" text-anchor="middle" font-family="Liberation Sans, sans-serif" fill="#222" stroke="#222" stroke-width="0.15">Mass(Da)</text>
<text x="505.0" y="11.3" font-size="11.2" font-family="Liberation Sans, sans-serif" fill="#222" stroke="#222" stroke-width="0.15">(c)</text>
<rect x="528" y="11.6" width="155.3" height="317.2" fill="none" stroke="#3a3a3a" stroke-width="1.6"/>
<polygon points="605.10,39.15 623.11,49.55 623.11,70.35 605.10,80.75 587.09,70.35 587.09,49.55" fill="none" stroke="#5a5a5a" stroke-width="1.15" stroke-linejoin="miter"/>
<line x1="591.34" y1="50.67" x2="603.95" y2="43.39" stroke="#5a5a5a" stroke-width="1.15"/>
<line x1="620.01" y1="52.67" x2="620.01" y2="67.23" stroke="#5a5a5a" stroke-width="1.15"/>
<line x1="591.34" y1="69.23" x2="603.95" y2="76.51" stroke="#5a5a5a" stroke-width="1.15"/>
<line x1="587.09" y1="49.55" x2="573.84" y2="41.90" stroke="#5a5a5a" stroke-width="1.15"/>
<text x="572.1" y="42.2" font-size="8.3" text-anchor="end" font-family="Liberation Sans, sans-serif" fill="#3a3a3a" stroke="#3a3a3a" stroke-width="0.15">H<tspan font-size="6.2">3</tspan>C</text>
<line x1="623.11" y1="49.55" x2="635.84" y2="42.20" stroke="#5a5a5a" stroke-width="1.15"/>
<text x="641.1" y="42.2" font-size="8.3" text-anchor="middle" font-family="Liberation Sans, sans-serif" fill="#4a5cf5" stroke="#4a5cf5" stroke-width="0.15">N</text>
<path d="M644.5,35.5h3.2M646.1,33.9v3.2" stroke="#4a5cf5" stroke-width="0.95" fill="none"/>
<line x1="641.13" y1="33.65" x2="641.13" y2="23.95" stroke="#5a5a5a" stroke-width="1.15"/>
<text x="641.1" y="21.4" font-size="8.3" text-anchor="middle" font-family="Liberation Sans, sans-serif" fill="#f0323e" stroke="#f0323e" stroke-width="0.15">O</text>
<line x1="645.1" y1="14.0" x2="648.0" y2="14.0" stroke="#f0323e" stroke-width="0.9"/>
<line x1="647.47" y1="40.96" x2="654.57" y2="45.06" stroke="#5a5a5a" stroke-width="1.05"/>
<line x1="645.87" y1="43.74" x2="652.97" y2="47.84" stroke="#5a5a5a" stroke-width="1.05"/>
<text x="659.1" y="52.6" font-size="8.3" text-anchor="middle" font-family="Liberation Sans, sans-serif" fill="#f0323e" stroke="#f0323e" stroke-width="0.15">O</text>
<line x1="623.11" y1="70.35" x2="635.24" y2="77.35" stroke="#5a5a5a" stroke-width="1.15"/>
<text x="638.8" y="83.8" font-size="8.3" font-family="Liberation Sans, sans-serif" fill="#3a3a3a" stroke="#3a3a3a" stroke-width="0.15">CH<tspan font-size="6.2">3</tspan></text>
<line x1="587.09" y1="70.35" x2="575.05" y2="77.30" stroke="#5a5a5a" stroke-width="1.15"/>
<text x="572.2" y="83.8" font-size="8.3" text-anchor="end" font-family="Liberation Sans, sans-serif" fill="#f0323e" stroke="#f0323e" stroke-width="0.15">HO</text>
<line x1="607.5" y1="85.3" x2="607.5" y2="143.1" stroke="#111" stroke-width="1.3"/>
<path d="M607.5,148.1 L605.0,138.9 L607.5,139.7 L610.0,138.9 Z" fill="#111"/>
<line x1="607.6" y1="198.0" x2="607.6" y2="249.8" stroke="#111" stroke-width="1.3"/>
<path d="M607.6,254.8 L605.1,245.60000000000002 L607.6,246.4 L610.1,245.60000000000002 Z" fill="#111"/>
<text x="611.0" y="105.9" font-size="9.6" font-family="Liberation Sans, sans-serif" fill="#1e1e1e" stroke="#1e1e1e" stroke-width="0.15">ring-retaining</text>
<text x="611.0" y="116.5" font-size="9.6" font-family="Liberation Sans, sans-serif" fill="#1e1e1e" stroke="#1e1e1e" stroke-width="0.15">functionalization</text>
<text x="611.3" y="217.3" font-size="9.6" font-family="Liberation Sans, sans-serif" fill="#1e1e1e" stroke="#1e1e1e" stroke-width="0.15">ring-retaining</text>
<text x="611.3" y="228.4" font-size="9.6" font-family="Liberation Sans, sans-serif" fill="#1e1e1e" stroke="#1e1e1e" stroke-width="0.15">functionalization</text>
<polygon points="607.10,154.20 623.90,163.90 623.90,183.30 607.10,193.00 590.30,183.30 590.30,163.90" fill="none" stroke="#5a5a5a" stroke-width="1.15" stroke-linejoin="miter"/>
<line x1="594.37" y1="165.13" x2="606.13" y2="158.34" stroke="#5a5a5a" stroke-width="1.15"/>
<line x1="620.80" y1="166.81" x2="620.80" y2="180.39" stroke="#5a5a5a" stroke-width="1.15"/>
<line x1="594.37" y1="182.07" x2="606.13" y2="188.86" stroke="#5a5a5a" stroke-width="1.15"/>
<line x1="590.30" y1="163.90" x2="573.50" y2="154.20" stroke="#5a5a5a" stroke-width="1.15"/>
<line x1="572.50" y1="154.20" x2="572.50" y2="140.00" stroke="#5a5a5a" stroke-width="1.05"/>
<line x1="574.70" y1="154.20" x2="574.70" y2="140.00" stroke="#5a5a5a" stroke-width="1.05"/>
<text x="573.5" y="137.8" font-size="8.3" text-anchor="middle" font-family="Liberation Sans, sans-serif" fill="#f0323e" stroke="#f0323e" stroke-width="0.15">O</text>
<line x1="573.50" y1="154.20" x2="562.07" y2="160.80" stroke="#5a5a5a" stroke-width="1.15"/>
<text x="553.7" y="166.9" font-size="8.3" text-anchor="middle" font-family="Liberation Sans, sans-serif" fill="#f0323e" stroke="#f0323e" stroke-width="0.15">HO</text>
<line x1="590.30" y1="183.30" x2="579.47" y2="189.55" stroke="#5a5a5a" stroke-width="1.15"/>
<text x="576.6" y="196.0" font-size="8.3" text-anchor="end" font-family="Liberation Sans, sans-serif" fill="#f0323e" stroke="#f0323e" stroke-width="0.15">HO</text>
<line x1="623.90" y1="163.90" x2="635.42" y2="157.25" stroke="#5a5a5a" stroke-width="1.15"/>
<text x="640.7" y="157.2" font-size="8.3" text-anchor="middle" font-family="Liberation Sans, sans-serif" fill="#4a5cf5" stroke="#4a5cf5" stroke-width="0.15">N</text>
<path d="M644.1,150.5h3.2M645.7,148.9v3.2" stroke="#4a5cf5" stroke-width="0.95" fill="none"/>
<line x1="640.70" y1="148.70" x2="640.70" y2="140.40" stroke="#5a5a5a" stroke-width="1.15"/>
<text x="640.7" y="137.8" font-size="8.3" text-anchor="middle" font-family="Liberation Sans, sans-serif" fill="#f0323e" stroke="#f0323e" stroke-width="0.15">O</text>
<line x1="644.7" y1="130.4" x2="647.6" y2="130.4" stroke="#f0323e" stroke-width="0.9"/>
<line x1="647.04" y1="156.01" x2="652.93" y2="159.41" stroke="#5a5a5a" stroke-width="1.05"/>
<line x1="645.44" y1="158.79" x2="651.33" y2="162.19" stroke="#5a5a5a" stroke-width="1.05"/>
<text x="657.5" y="166.9" font-size="8.3" text-anchor="middle" font-family="Liberation Sans, sans-serif" fill="#f0323e" stroke="#f0323e" stroke-width="0.15">O</text>
<line x1="623.90" y1="183.30" x2="634.81" y2="189.60" stroke="#5a5a5a" stroke-width="1.15"/>
<text x="638.4" y="196.0" font-size="8.3" font-family="Liberation Sans, sans-serif" fill="#3a3a3a" stroke="#3a3a3a" stroke-width="0.15">CH<tspan font-size="6.2">3</tspan></text>
<polygon points="607.10,261.40 623.90,271.10 623.90,290.50 607.10,300.20 590.30,290.50 590.30,271.10" fill="none" stroke="#5a5a5a" stroke-width="1.15" stroke-linejoin="miter"/>
<line x1="594.37" y1="272.33" x2="606.13" y2="265.54" stroke="#5a5a5a" stroke-width="1.15"/>
<line x1="620.80" y1="274.01" x2="620.80" y2="287.59" stroke="#5a5a5a" stroke-width="1.15"/>
<line x1="594.37" y1="289.27" x2="606.13" y2="296.06" stroke="#5a5a5a" stroke-width="1.15"/>
<line x1="590.30" y1="271.10" x2="573.50" y2="261.40" stroke="#5a5a5a" stroke-width="1.15"/>
<line x1="572.50" y1="261.40" x2="572.50" y2="247.20" stroke="#5a5a5a" stroke-width="1.05"/>
<line x1="574.70" y1="261.40" x2="574.70" y2="247.20" stroke="#5a5a5a" stroke-width="1.05"/>
<text x="573.5" y="245.0" font-size="8.3" text-anchor="middle" font-family="Liberation Sans, sans-serif" fill="#f0323e" stroke="#f0323e" stroke-width="0.15">O</text>
<line x1="573.50" y1="261.40" x2="562.07" y2="268.00" stroke="#5a5a5a" stroke-width="1.15"/>
<text x="553.7" y="274.1" font-size="8.3" text-anchor="middle" font-family="Liberation Sans, sans-serif" fill="#f0323e" stroke="#f0323e" stroke-width="0.15">HO</text>
<line x1="590.30" y1="290.50" x2="579.47" y2="296.75" stroke="#5a5a5a" stroke-width="1.15"/>
<text x="576.6" y="303.2" font-size="8.3" text-anchor="end" font-family="Liberation Sans, sans-serif" fill="#f0323e" stroke="#f0323e" stroke-width="0.15">HO</text>
<line x1="623.90" y1="271.10" x2="635.42" y2="264.45" stroke="#5a5a5a" stroke-width="1.15"/>
<text x="640.7" y="264.4" font-size="8.3" text-anchor="middle" font-family="Liberation Sans, sans-serif" fill="#4a5cf5" stroke="#4a5cf5" stroke-width="0.15">N</text>
<path d="M644.1,257.7h3.2M645.7,256.1v3.2" stroke="#4a5cf5" stroke-width="0.95" fill="none"/>
<line x1="640.70" y1="255.90" x2="640.70" y2="247.60" stroke="#5a5a5a" stroke-width="1.15"/>
<text x="640.7" y="245.0" font-size="8.3" text-anchor="middle" font-family="Liberation Sans, sans-serif" fill="#f0323e" stroke="#f0323e" stroke-width="0.15">O</text>
<line x1="644.7" y1="237.6" x2="647.6" y2="237.6" stroke="#f0323e" stroke-width="0.9"/>
<line x1="647.04" y1="263.21" x2="652.93" y2="266.61" stroke="#5a5a5a" stroke-width="1.05"/>
<line x1="645.44" y1="265.99" x2="651.33" y2="269.39" stroke="#5a5a5a" stroke-width="1.05"/>
<text x="657.5" y="274.1" font-size="8.3" text-anchor="middle" font-family="Liberation Sans, sans-serif" fill="#f0323e" stroke="#f0323e" stroke-width="0.15">O</text>
<line x1="623.90" y1="290.50" x2="640.70" y2="300.20" stroke="#5a5a5a" stroke-width="1.15"/>
<line x1="641.70" y1="300.20" x2="641.70" y2="314.40" stroke="#5a5a5a" stroke-width="1.05"/>
<line x1="639.50" y1="300.20" x2="639.50" y2="314.40" stroke="#5a5a5a" stroke-width="1.05"/>
<text x="640.7" y="322.6" font-size="8.3" text-anchor="middle" font-family="Liberation Sans, sans-serif" fill="#f0323e" stroke="#f0323e" stroke-width="0.15">O</text>
<line x1="640.70" y1="300.20" x2="652.13" y2="293.60" stroke="#5a5a5a" stroke-width="1.15"/>
<text x="660.5" y="293.5" font-size="8.3" text-anchor="middle" font-family="Liberation Sans, sans-serif" fill="#f0323e" stroke="#f0323e" stroke-width="0.15">OH</text>
</svg>
</body></html>
